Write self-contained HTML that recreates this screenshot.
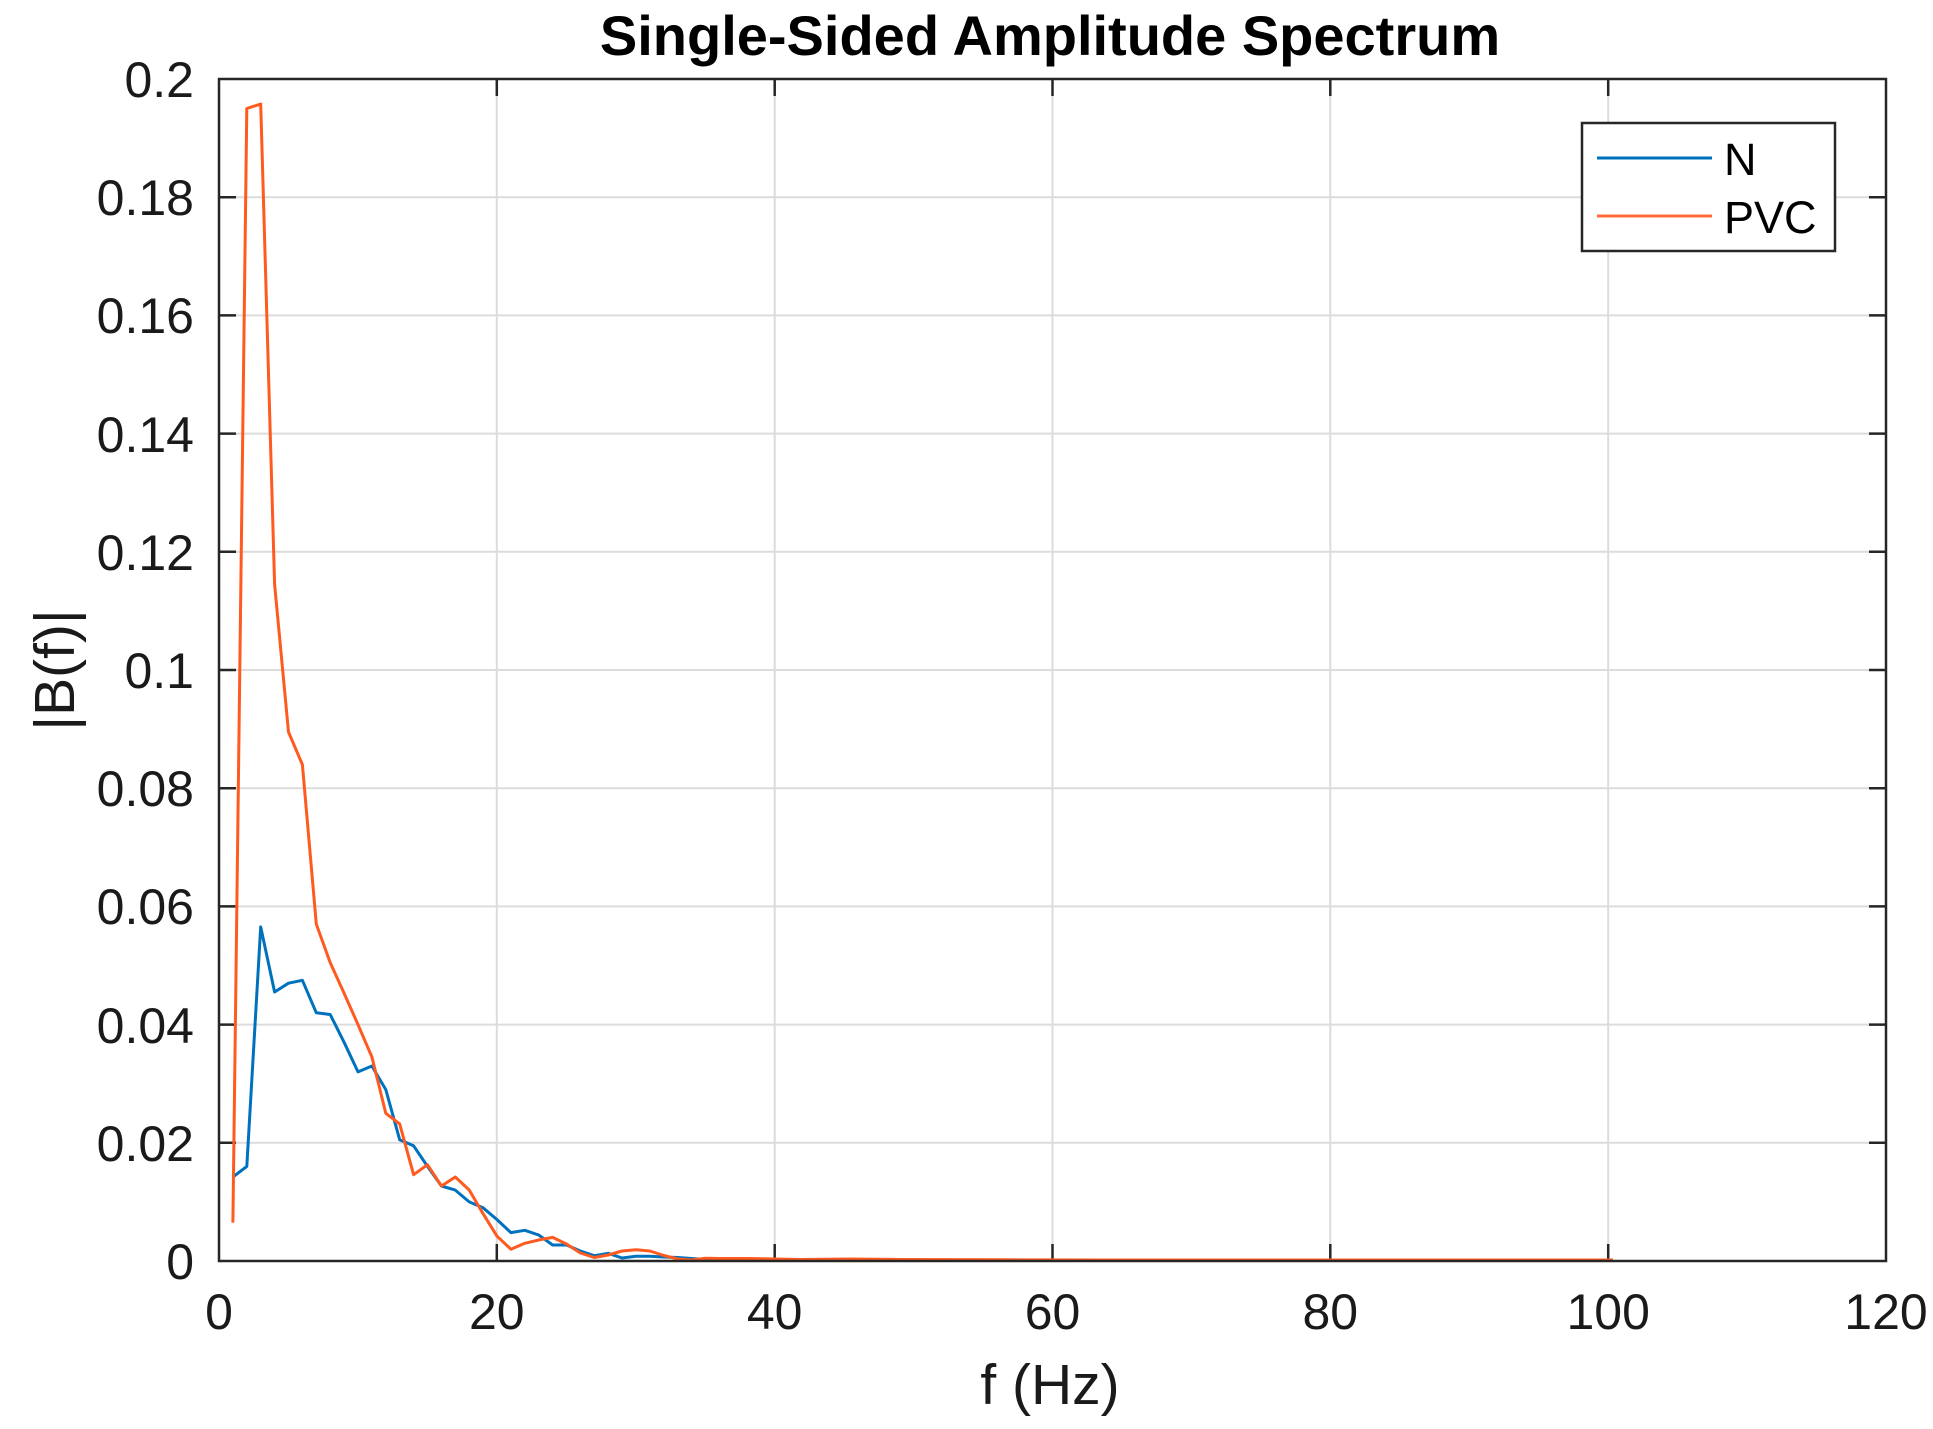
<!DOCTYPE html>
<html><head><meta charset="utf-8"><style>html,body{margin:0;padding:0;background:#fff}svg{display:block}</style></head>
<body>
<svg width="1933" height="1429" viewBox="0 0 1933 1429" xmlns="http://www.w3.org/2000/svg" font-family="Liberation Sans, Arial, sans-serif">
<rect width="1933" height="1429" fill="#fff"/>
<g id="grid" stroke="#dcdcdc" stroke-width="2">
<line x1="496.8" y1="79" x2="496.8" y2="1261"/><line x1="774.7" y1="79" x2="774.7" y2="1261"/><line x1="1052.5" y1="79" x2="1052.5" y2="1261"/><line x1="1330.3" y1="79" x2="1330.3" y2="1261"/><line x1="1608.2" y1="79" x2="1608.2" y2="1261"/>
<line x1="219" y1="1142.8" x2="1886" y2="1142.8"/><line x1="219" y1="1024.6" x2="1886" y2="1024.6"/><line x1="219" y1="906.4" x2="1886" y2="906.4"/><line x1="219" y1="788.2" x2="1886" y2="788.2"/><line x1="219" y1="670" x2="1886" y2="670"/><line x1="219" y1="551.8" x2="1886" y2="551.8"/><line x1="219" y1="433.6" x2="1886" y2="433.6"/><line x1="219" y1="315.4" x2="1886" y2="315.4"/><line x1="219" y1="197.2" x2="1886" y2="197.2"/>
</g>
<g stroke="#262626" stroke-width="2.5">
<path d="M496.8,1261v-17M774.7,1261v-17M1052.5,1261v-17M1330.3,1261v-17M1608.2,1261v-17M496.8,79v17M774.7,79v17M1052.5,79v17M1330.3,79v17M1608.2,79v17"/>
<path d="M219,1142.8h17M219,1024.6h17M219,906.4h17M219,788.2h17M219,670h17M219,551.8h17M219,433.6h17M219,315.4h17M219,197.2h17M1886,1142.8h-17M1886,1024.6h-17M1886,906.4h-17M1886,788.2h-17M1886,670h-17M1886,551.8h-17M1886,433.6h-17M1886,315.4h-17M1886,197.2h-17"/>
</g>
<polyline fill="none" stroke="#0072BD" stroke-width="3" stroke-linejoin="round" points="232.9,1177 246.8,1166.4 260.7,926.9 274.6,992 288.5,983.2 302.4,980.3 316.3,1012.8 330.2,1014.5 344.1,1042.3 358,1071.9 371.9,1066 385.8,1089.6 399.7,1139.8 413.6,1145.8 427.5,1166.4 441.4,1186 455.3,1190.1 469.2,1201.9 483.1,1207.8 497,1219.6 510.9,1232.6 524.8,1230.3 538.7,1235 552.6,1245 566.5,1245 580.4,1251 594.3,1255.7 608.2,1253.3 622.1,1258 636,1256.3 649.9,1256.3 663.8,1257 677.7,1257.5 691.6,1258.5 705.5,1259.5 719.4,1259.5 747.2,1259.8 775,1260 900,1260.3 1000,1260.4 1608,1260.5"/>
<polyline fill="none" stroke="#FF5A1F" stroke-width="3" stroke-linejoin="round" points="232.9,1222.6 246.8,108.5 260.7,104 274.6,584.3 288.5,732 302.4,764.6 316.3,924.1 330.2,962.6 344.1,993.3 358,1024.6 371.9,1057 385.8,1113.3 399.7,1124 413.6,1174.7 427.5,1164.7 441.4,1186 455.3,1177 469.2,1190 483.1,1213.7 497,1236.2 510.9,1249.2 524.8,1243.3 538.7,1240 552.6,1237.4 566.5,1244 580.4,1253 594.3,1257.5 608.2,1255 622.1,1251 636,1249.8 649.9,1251 663.8,1255.5 677.7,1259 691.6,1260 705.5,1258.2 719.4,1258.5 747.2,1258.5 775,1259 800,1259.5 850,1259 900,1259.5 1000,1259.8 1100,1260 1608,1260 1613,1260"/>
<rect x="219" y="79" width="1667" height="1182" fill="none" stroke="#262626" stroke-width="2.5"/>
<rect x="1582" y="123" width="253" height="128" fill="#fff" stroke="#262626" stroke-width="2.5"/>
<line x1="1597" y1="158" x2="1712" y2="158" stroke="#0072BD" stroke-width="3"/>
<line x1="1597" y1="216" x2="1712" y2="216" stroke="#FF6A3A" stroke-width="3"/>
<g font-size="45" fill="#000">
<text x="1724" y="175">N</text>
<text x="1724" y="233">PVC</text>
</g>
<g font-size="50" fill="#1a1a1a" text-anchor="middle">
<text x="219" y="1329">0</text><text x="496.8" y="1329">20</text><text x="774.7" y="1329">40</text><text x="1052.5" y="1329">60</text><text x="1330.3" y="1329">80</text><text x="1608.2" y="1329">100</text><text x="1886" y="1329">120</text>
</g>
<g font-size="50" fill="#1a1a1a" text-anchor="end">
<text x="194" y="1279">0</text><text x="194" y="1161">0.02</text><text x="194" y="1043">0.04</text><text x="194" y="924">0.06</text><text x="194" y="806">0.08</text><text x="194" y="688">0.1</text><text x="194" y="570">0.12</text><text x="194" y="452">0.14</text><text x="194" y="333">0.16</text><text x="194" y="215">0.18</text><text x="194" y="97">0.2</text>
</g>
<text x="1050" y="55" font-size="56" font-weight="bold" text-anchor="middle" fill="#000">Single-Sided Amplitude Spectrum</text>
<text x="1050" y="1404" font-size="57" text-anchor="middle" fill="#1a1a1a">f (Hz)</text>
<text transform="translate(74,670) rotate(-90)" font-size="57" text-anchor="middle" fill="#1a1a1a">|B(f)|</text>
</svg>
</body></html>
